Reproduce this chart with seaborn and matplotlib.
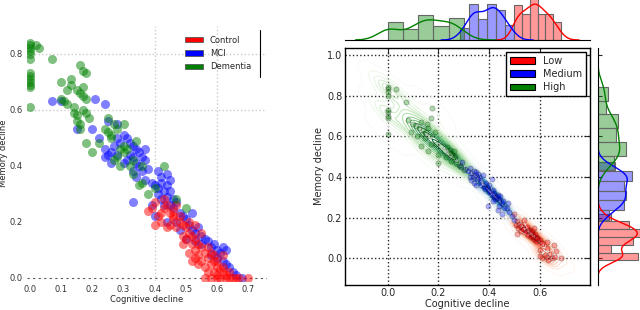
import matplotlib
matplotlib.use("Agg")
import matplotlib.pyplot as plt
import matplotlib.patches as mpatches
import seaborn as sns
import numpy as np

# ---------------------------------------------------------------------------
# Data – left panel (diagnosis groups), (cognitive, memory) pairs
# ---------------------------------------------------------------------------
CONTROL = [
    (0.38, 0.24), (0.39, 0.25), (0.40, 0.27), (0.41, 0.22), (0.40, 0.19), (0.42, 0.23),
    (0.43, 0.25), (0.44, 0.26), (0.45, 0.23), (0.46, 0.22), (0.47, 0.26), (0.48, 0.20),
    (0.49, 0.19), (0.50, 0.18), (0.47, 0.18), (0.46, 0.21), (0.51, 0.16), (0.52, 0.15),
    (0.50, 0.14), (0.49, 0.15), (0.53, 0.14), (0.54, 0.12), (0.52, 0.12), (0.55, 0.11),
    (0.53, 0.10), (0.54, 0.08), (0.56, 0.09), (0.57, 0.07), (0.55, 0.06), (0.52, 0.06),
    (0.54, 0.05), (0.56, 0.04), (0.58, 0.05), (0.59, 0.06), (0.60, 0.04), (0.61, 0.03),
    (0.59, 0.02), (0.60, 0.01), (0.62, 0.02), (0.63, 0.01), (0.61, 0.00), (0.63, 0.00),
    (0.64, 0.00), (0.65, 0.00), (0.66, 0.00), (0.67, 0.00), (0.70, 0.00), (0.56, 0.00),
    (0.58, 0.00), (0.60, 0.00), (0.62, 0.04), (0.64, 0.02), (0.48, 0.22), (0.45, 0.19),
    (0.44, 0.18), (0.51, 0.20), (0.57, 0.11), (0.58, 0.09), (0.59, 0.08), (0.60, 0.06),
    (0.62, 0.08), (0.55, 0.16), (0.53, 0.19), (0.42, 0.20), (0.43, 0.28), (0.46, 0.24),
    (0.49, 0.12), (0.51, 0.09), (0.53, 0.07), (0.57, 0.02),
]
MCI = [
    (0.07, 0.63), (0.10, 0.63), (0.15, 0.53), (0.20, 0.53), (0.21, 0.64), (0.24, 0.62),
    (0.22, 0.50), (0.24, 0.46), (0.25, 0.44), (0.26, 0.45), (0.25, 0.56), (0.28, 0.55),
    (0.28, 0.50), (0.29, 0.48), (0.30, 0.51), (0.31, 0.50), (0.32, 0.48), (0.33, 0.47),
    (0.32, 0.44), (0.34, 0.46), (0.35, 0.45), (0.33, 0.43), (0.31, 0.42), (0.34, 0.41),
    (0.36, 0.43), (0.37, 0.42), (0.38, 0.39), (0.36, 0.38), (0.35, 0.40), (0.33, 0.38),
    (0.30, 0.41), (0.28, 0.44), (0.26, 0.41), (0.24, 0.43), (0.27, 0.47), (0.34, 0.36),
    (0.37, 0.35), (0.39, 0.34), (0.40, 0.33), (0.41, 0.32), (0.42, 0.34), (0.41, 0.30),
    (0.43, 0.31), (0.44, 0.33), (0.45, 0.31), (0.42, 0.28), (0.44, 0.29), (0.46, 0.28),
    (0.47, 0.27), (0.45, 0.26), (0.43, 0.26), (0.42, 0.36), (0.44, 0.37), (0.45, 0.35),
    (0.33, 0.27), (0.39, 0.26), (0.40, 0.22), (0.44, 0.20), (0.46, 0.25), (0.48, 0.23),
    (0.49, 0.22), (0.50, 0.21), (0.47, 0.20), (0.51, 0.19), (0.52, 0.17), (0.53, 0.16),
    (0.54, 0.18), (0.55, 0.15), (0.56, 0.14), (0.55, 0.12), (0.57, 0.13), (0.58, 0.11),
    (0.59, 0.12), (0.60, 0.10), (0.61, 0.09), (0.62, 0.11), (0.63, 0.10), (0.60, 0.07),
    (0.62, 0.06), (0.63, 0.05), (0.64, 0.04), (0.65, 0.02), (0.66, 0.01), (0.68, 0.00),
    (0.58, 0.08), (0.53, 0.13), (0.50, 0.14), (0.48, 0.17), (0.52, 0.23), (0.41, 0.38),
    (0.37, 0.46),
]
DEMENTIA = [
    (0.00, 0.84), (0.00, 0.83), (0.00, 0.82), (0.00, 0.81), (0.00, 0.80), (0.00, 0.78),
    (0.00, 0.73), (0.00, 0.72), (0.00, 0.71), (0.00, 0.70), (0.00, 0.69), (0.00, 0.68),
    (0.00, 0.61), (0.02, 0.83), (0.03, 0.82), (0.07, 0.78), (0.10, 0.70), (0.10, 0.64),
    (0.11, 0.63), (0.12, 0.62), (0.12, 0.67), (0.13, 0.69), (0.13, 0.71), (0.14, 0.61),
    (0.15, 0.67), (0.16, 0.76), (0.17, 0.74), (0.18, 0.73), (0.16, 0.66), (0.17, 0.65),
    (0.18, 0.64), (0.17, 0.68), (0.15, 0.58), (0.15, 0.56), (0.16, 0.55), (0.14, 0.59),
    (0.17, 0.60), (0.18, 0.59), (0.19, 0.57), (0.16, 0.53), (0.18, 0.48), (0.20, 0.45),
    (0.22, 0.48), (0.24, 0.53), (0.25, 0.52), (0.26, 0.51), (0.27, 0.55), (0.25, 0.57),
    (0.28, 0.53), (0.30, 0.55), (0.29, 0.46), (0.30, 0.45), (0.31, 0.46), (0.30, 0.47),
    (0.27, 0.42), (0.29, 0.40), (0.32, 0.40), (0.33, 0.42), (0.34, 0.49), (0.36, 0.34),
    (0.35, 0.33), (0.38, 0.30), (0.40, 0.32), (0.43, 0.40), (0.47, 0.28), (0.50, 0.25),
    (0.33, 0.37), (0.28, 0.43), (0.26, 0.50), (0.36, 0.40),
]

# ---------------------------------------------------------------------------
# Data – right panel (decline level groups)
# ---------------------------------------------------------------------------
LOW = [
    (0.500, 0.220), (0.505, 0.165), (0.510, 0.185), (0.515, 0.150), (0.520, 0.170),
    (0.525, 0.135), (0.528, 0.160), (0.512, 0.120), (0.535, 0.145), (0.540, 0.190),
    (0.545, 0.130), (0.550, 0.155), (0.555, 0.115), (0.558, 0.140), (0.565, 0.125),
    (0.568, 0.107), (0.572, 0.135), (0.575, 0.110), (0.578, 0.095), (0.580, 0.150),
    (0.583, 0.118), (0.586, 0.085), (0.589, 0.098), (0.591, 0.100), (0.600, 0.090),
    (0.610, 0.075), (0.630, 0.080), (0.658, 0.068), (0.600, 0.010), (0.610, 0.000),
    (0.620, 0.015), (0.630, 0.005), (0.635, -0.010), (0.640, 0.020), (0.650, 0.000),
    (0.660, 0.008), (0.685, 0.002), (0.600, 0.040), (0.665, 0.035), (0.630, 0.050),
]
MEDIUM = [
    (0.285, 0.455), (0.295, 0.475), (0.305, 0.440), (0.315, 0.430), (0.325, 0.445),
    (0.330, 0.420), (0.335, 0.400), (0.340, 0.430), (0.345, 0.410), (0.350, 0.425),
    (0.352, 0.390), (0.355, 0.415), (0.330, 0.385), (0.340, 0.370), (0.325, 0.400),
    (0.348, 0.360), (0.360, 0.400), (0.365, 0.385), (0.370, 0.360), (0.375, 0.410),
    (0.380, 0.350), (0.385, 0.340), (0.390, 0.370), (0.395, 0.345), (0.400, 0.330),
    (0.405, 0.320), (0.410, 0.310), (0.415, 0.335), (0.420, 0.300), (0.420, 0.320),
    (0.425, 0.290), (0.410, 0.390), (0.400, 0.360), (0.415, 0.280), (0.398, 0.260),
    (0.430, 0.300), (0.435, 0.310), (0.440, 0.290), (0.445, 0.305), (0.450, 0.270),
    (0.455, 0.280), (0.440, 0.260), (0.460, 0.250), (0.435, 0.240), (0.450, 0.220),
    (0.470, 0.250), (0.475, 0.270), (0.480, 0.230), (0.490, 0.210), (0.500, 0.190),
]
HIGH = [
    (0.000, 0.844), (0.000, 0.830), (0.000, 0.820), (0.000, 0.800), (0.000, 0.730),
    (0.000, 0.720), (0.000, 0.700), (0.000, 0.690), (0.000, 0.610), (0.030, 0.830),
    (0.070, 0.770), (0.100, 0.660), (0.110, 0.650), (0.090, 0.620), (0.115, 0.600),
    (0.080, 0.680), (0.122, 0.640), (0.130, 0.670), (0.135, 0.610), (0.140, 0.630),
    (0.145, 0.590), (0.150, 0.620), (0.155, 0.660), (0.160, 0.640), (0.165, 0.600),
    (0.170, 0.560), (0.175, 0.740), (0.130, 0.550), (0.160, 0.530), (0.170, 0.690),
    (0.185, 0.620), (0.190, 0.560), (0.200, 0.510), (0.210, 0.550), (0.220, 0.530),
    (0.230, 0.500), (0.200, 0.470), (0.235, 0.545), (0.242, 0.520), (0.245, 0.535),
    (0.250, 0.520), (0.255, 0.510), (0.260, 0.530), (0.265, 0.505), (0.250, 0.480),
    (0.270, 0.470), (0.280, 0.460), (0.290, 0.450), (0.300, 0.434), (0.260, 0.495),
]

LEFT_GROUPS = [("Control", CONTROL, "red"), ("MCI", MCI, "blue"), ("Dementia", DEMENTIA, "green")]
# (label, points, colour, cmap, bins x, bins y)
RIGHT_GROUPS = [
    ("Low", LOW, "red", "Reds", 6, 6),
    ("Medium", MEDIUM, "blue", "Blues", 6, 6),
    ("High", HIGH, "green", "Greens", 5, 6),
]

sns.set_style("white")
plt.rcParams["font.family"] = ["DejaVu Sans"]

fig = plt.figure(figsize=(6.4, 3.1), dpi=100)

# ---------------------------------------------------------------------------
# Left panel – plain scatter, no frame, dotted grid
# ---------------------------------------------------------------------------
ax = fig.add_axes([0.042, 0.095, 0.375, 0.822])
for name, pts, col in [LEFT_GROUPS[1], LEFT_GROUPS[0], LEFT_GROUPS[2]]:
    arr = np.array(pts)
    sns.scatterplot(x=arr[:, 0], y=arr[:, 1], color=col, s=42, alpha=0.5,
                    linewidth=0, ax=ax, zorder=3)
for gx in [0.4, 0.6]:
    ax.axvline(gx, color="0.8", ls=":", lw=1, zorder=1)
for gy in [0.6, 0.8]:
    ax.axhline(gy, color="0.8", ls=":", lw=1, zorder=1)
ax.axhline(0.0, color="0.35", ls=(0, (2, 3)), lw=0.8, zorder=1)
ax.set_xlim(-0.01, 0.76)
ax.set_ylim(-0.01, 0.9)
ax.set_xticks(np.arange(0, 0.71, 0.1))
ax.set_yticks(np.arange(0, 0.81, 0.2))
ax.tick_params(labelsize=6, colors="0.2", length=2, pad=1)
for sp in ax.spines.values():
    sp.set_visible(False)
ax.set_xlabel("Cognitive decline", fontsize=6, labelpad=1, color="0.15")
ax.set_ylabel("Memory decline", fontsize=6, labelpad=1, color="0.15")
handles = [mpatches.Patch(facecolor=c, edgecolor="0.35", lw=0.6, label=n)
           for n, _, c in LEFT_GROUPS]
ax.legend(handles=handles, loc="upper right", bbox_to_anchor=(0.965, 0.99),
          frameon=False, fontsize=6, handlelength=2.2, handleheight=0.6,
          handletextpad=0.8, labelspacing=0.5)
ax.plot([0.972, 0.972], [0.80, 0.985], transform=ax.transAxes, color="k",
        lw=0.8, clip_on=False)

# ---------------------------------------------------------------------------
# Right panel – joint KDE + scatter with marginal histograms
# ---------------------------------------------------------------------------
ax_j = fig.add_axes([0.539, 0.081, 0.383, 0.765])
ax_t = fig.add_axes([0.539, 0.871, 0.383, 0.129], sharex=ax_j)
ax_r = fig.add_axes([0.934, 0.081, 0.066, 0.765], sharey=ax_j)

for name, pts, col, cmap, bx, by in RIGHT_GROUPS:
    arr = np.array(pts)
    sns.kdeplot(x=arr[:, 0], y=arr[:, 1], cmap=cmap, levels=14, thresh=0.01,
                bw_adjust=1.0, linewidths=0.7, ax=ax_j, zorder=2)
for name, pts, col, cmap, bx, by in RIGHT_GROUPS:
    arr = np.array(pts)
    sns.scatterplot(x=arr[:, 0], y=arr[:, 1], color=col, s=14, alpha=0.3,
                    edgecolor="k", linewidth=0.5, ax=ax_j, zorder=3)
    sns.histplot(x=arr[:, 0], bins=bx, stat="density", color=col, alpha=0.4,
                 edgecolor="0.4", linewidth=0.8, ax=ax_t)
    sns.kdeplot(x=arr[:, 0], color=col, lw=1, ax=ax_t)
    sns.histplot(y=arr[:, 1], bins=by, stat="density", color=col, alpha=0.4,
                 edgecolor="0.4", linewidth=0.8, ax=ax_r)
    sns.kdeplot(y=arr[:, 1], color=col, lw=1, ax=ax_r)

ax_j.set_xlim(-0.17, 0.8)
ax_j.set_ylim(-0.13, 1.035)
ax_j.set_xticks(np.arange(0, 0.61, 0.2))
ax_j.set_yticks(np.arange(0, 1.01, 0.2))
ax_j.grid(True, color="0.15", ls=":", lw=1)
ax_j.tick_params(labelsize=7, direction="in", top=True, right=True, length=4,
                 colors="0.15", pad=2)
for sp in ax_j.spines.values():
    sp.set_color("k")
    sp.set_linewidth(1)
ax_j.set_xlabel("Cognitive decline", fontsize=7, color="0.15", labelpad=1)
ax_j.set_ylabel("Memory decline", fontsize=7, color="0.15", labelpad=2)
handles = [mpatches.Patch(facecolor=c, edgecolor="k", lw=0.8, label=n)
           for n, _, c, *_ in RIGHT_GROUPS]
leg = ax_j.legend(handles=handles, loc="upper right", fontsize=7, fancybox=False,
                  edgecolor="k", framealpha=1, handlelength=2.6, handleheight=0.7,
                  borderaxespad=0.4, labelspacing=0.35)
leg.get_frame().set_linewidth(1)

ax_t.set_ylim(0, 7.4)
ax_t.set_ylabel("")
ax_t.tick_params(left=False, bottom=False, labelleft=False, labelbottom=False)
for s in ["top", "left", "right"]:
    ax_t.spines[s].set_visible(False)
ax_t.spines["bottom"].set_color("k")

ax_r.set_xlim(0, 6.2)
ax_r.set_xlabel("")
ax_r.tick_params(bottom=False, labelbottom=False, labelleft=False,
                 direction="in", left=True, length=3)
for s in ["top", "bottom", "right"]:
    ax_r.spines[s].set_visible(False)
ax_r.spines["left"].set_color("k")

fig.savefig("out.png", dpi=100)
